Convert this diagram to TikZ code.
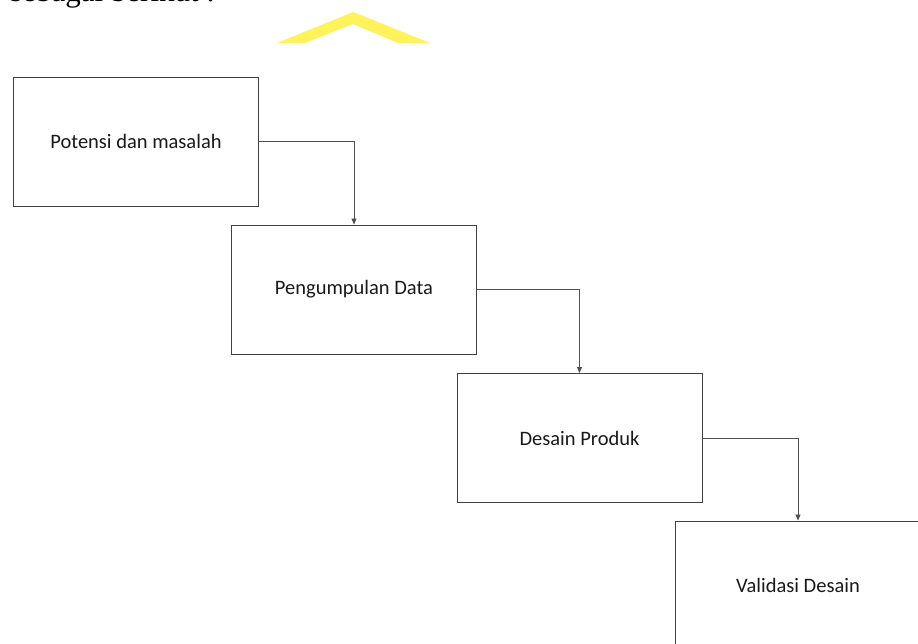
\documentclass[tikz,border=0pt]{standalone}
\usepackage{fontspec}
\setmainfont{Carlito}
\newfontfamily\seriffont{Liberation Serif}
\usetikzlibrary{arrows.meta}
\definecolor{boxline}{RGB}{64,64,64}
\definecolor{connline}{RGB}{80,80,80}
\definecolor{chevron}{RGB}{255,242,90}
\tikzset{
  stepbox/.style={draw=boxline, line width=0.9pt, rectangle, minimum width=245pt, minimum height=129pt, inner sep=0pt, font=\fontsize{20.5}{24}\selectfont, text=black!90},
  conn/.style={draw=connline, line width=0.8pt, -{Triangle[length=6pt,width=5pt]}}
}
\begin{document}
\begin{tikzpicture}[x=1pt,y=-1pt]
\useasboundingbox (0,0) rectangle (918,644);
\clip (0,0) rectangle (918,644);
% partially visible heading text
\node[anchor=base west, inner sep=0pt, font=\seriffont\fontsize{31}{36}\selectfont] (head) at (10,2) {sebagai berikut :};
% yellow chevron watermark
\fill[chevron] (277,43) -- (353,12) -- (430,43) -- (398,43) -- (353,24) -- (305,43) -- cycle;
% boxes
\node[stepbox] (b1) at (136,141.5) {Potensi dan masalah};
\node[stepbox] (b2) at (354,289.5) {Pengumpulan Data};
\node[stepbox] (b3) at (579.5,438) {Desain Produk};
\node[stepbox] (b4) at (798,585.5) {Validasi Desain};
% connectors
\draw[conn] (b1.east) -| (b2.north);
\draw[conn] (b2.east) -| (b3.north);
\draw[conn] (b3.east) -| (b4.north);
\end{tikzpicture}
\end{document}
